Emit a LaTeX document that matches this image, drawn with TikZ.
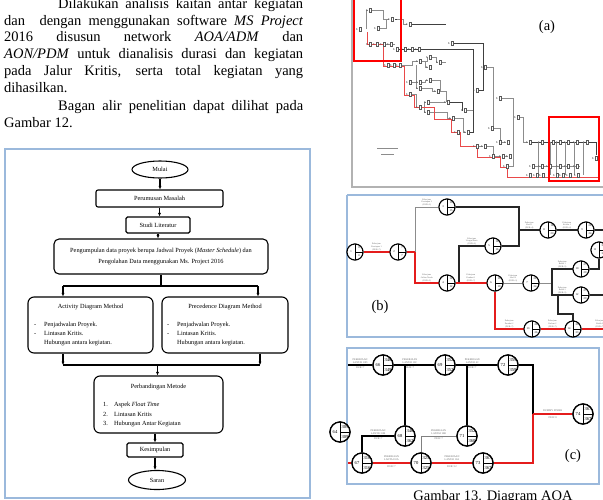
\documentclass[tikz,border=0pt]{standalone}
\usepackage{fontspec}
\setmainfont{Liberation Serif}
\usetikzlibrary{arrows.meta,positioning,calc,shapes.geometric}
\definecolor{frameblue}{RGB}{155,185,220}
\definecolor{pathred}{RGB}{228,28,28}
\tikzset{
  bodyline/.style={anchor=base west, inner sep=0pt, font=\fontsize{14.5}{17}\selectfont},
  flowbox/.style={draw=black, line width=1.1pt, rounded corners=2pt, fill=white,
    align=center, inner sep=1pt, font=\fontsize{6.3}{10.5}\selectfont},
  flowoval/.style={draw=black, line width=1.1pt, ellipse, fill=white, inner sep=0pt,
    font=\fontsize{6.3}{8}\selectfont},
  flowtext/.style={inner sep=0pt, font=\fontsize{6.3}{9}\selectfont},
  flowarrow/.style={-{Latex[length=3.5pt,width=3.2pt]}, line width=1.1pt},
  flowline/.style={line width=1.1pt},
  frame/.style={draw=frameblue, line width=1.3pt},
  mini/.style={draw=black!65, line width=0.4pt, fill=white, minimum width=2.2pt,
    minimum height=4.6pt, inner sep=0pt},
  agray/.style={draw=black!45, line width=0.6pt},
  adark/.style={draw=black!75, line width=0.8pt},
  ared/.style={draw=pathred!80, line width=0.7pt},
  redbox/.style={draw=red, line width=1.8pt},
  eventnode/.style={circle, draw=black, fill=white, inner sep=0pt,
    path picture={\draw[line width=#1] (path picture bounding box.north) -- (path picture bounding box.south)
      (path picture bounding box.center) -- (path picture bounding box.east);}},
  eventnode/.default=0.6pt,
  critb/.style={draw=pathred, line width=1.8pt},
  blackb/.style={draw=black!85, line width=1.1pt},
  grayb/.style={draw=black!45, line width=0.7pt},
  elabb/.style={above, align=center, inner sep=0.6pt, font=\fontsize{2.2}{2.6}\selectfont, text=black!60},
  critc/.style={draw=pathred, line width=2.4pt},
  blackc/.style={draw=black, line width=1.6pt},
  grayc/.style={draw=black!50, line width=0.7pt},
  elabc/.style={above, align=center, inner sep=0.8pt, font=\fontsize{2.6}{3}\selectfont, text=black!60},
  durc/.style={below, inner sep=1.2pt, font=\fontsize{2.6}{3}\selectfont, text=black!60},
}
\newcommand{\eventvals}[5]{%
  \node[valtxt] at ($(#1.center)+(-#2,0)$) {#3};
  \node[valtxt] at ($(#1.center)+(#2,-#2)$) {#4};
  \node[valtxt] at ($(#1.center)+(#2,#2)$) {#5};}

\begin{document}
\begin{tikzpicture}[x=1pt, y=-1pt]
\useasboundingbox (0,0) rectangle (603,499);

% paragraph text
\node[bodyline] (l1) at (58,8.5) {\makebox[245pt][s]{Dilakukan analisis kaitan antar kegiatan}};
\node[bodyline] (l2) at (4,25.2) {\makebox[299pt][s]{dan\ \ dengan menggunakan software \textit{MS Project}}};
\node[bodyline] (l3) at (4,41.9) {\makebox[299pt][s]{2016 disusun network \textit{AOA/ADM} dan}};
\node[bodyline] (l4) at (4,58.6) {\makebox[299pt][s]{\textit{AON/PDM} untuk dianalisis durasi dan kegiatan}};
\node[bodyline] (l5) at (4,75.3) {\makebox[299pt][s]{pada Jalur Kritis, serta total kegiatan yang}};
\node[bodyline] (l6) at (4,92) {dihasilkan.};
\node[bodyline] (l7) at (58,110) {\makebox[245pt][s]{Bagan alir penelitian dapat dilihat pada}};
\node[bodyline] (l8) at (4,127) {Gambar 12.};

% flowchart
\draw[frame] (5,149) rectangle (310,498);
\node[flowoval, minimum width=56pt, minimum height=17pt] (mulai) at (160,169.5) {Mulai};
\node[flowbox, minimum width=127pt, minimum height=17pt] (rumus) at (159.5,198.5) {Perumusan Masalah};
\node[flowbox, minimum width=64pt, minimum height=16pt, rounded corners=1.5pt] (studi) at (158,225) {Studi Literatur};
\node[flowbox, minimum width=214pt, minimum height=35pt, rounded corners=5pt] (kumpul) at (161,256.5)
  {Pengumpulan data proyek berupa Jadwal Proyek (\textit{Master Schedule}) dan\\Pengolahan Data menggunakan Ms. Project 2016};
\node[flowbox, minimum width=125pt, minimum height=56pt, rounded corners=6pt] (adm) at (90.5,325) {};
\node[flowtext] (admtitle) at (90.5,307) {Activity Diagram Method};
\node[flowtext, anchor=west] (admlist) at (34,334)
  {\begin{tabular}{@{}p{10pt}@{}l@{}}-&Penjadwalan Proyek.\\-&Lintasan Kritis.\\&Hubungan antara kegiatan.\end{tabular}};
\node[flowbox, minimum width=126pt, minimum height=56pt, rounded corners=6pt] (pdm) at (225,325) {};
\node[flowtext] (pdmtitle) at (225,307) {Precedence Diagram Method};
\node[flowtext, anchor=west] (pdmlist) at (167,334)
  {\begin{tabular}{@{}p{10pt}@{}l@{}}-&Penjadwalan Proyek.\\-&Lintasan Kritis.\\&Hubungan antara kegiatan.\end{tabular}};
\node[flowbox, minimum width=129pt, minimum height=57pt, rounded corners=6pt] (banding) at (158.5,404.5) {};
\node[flowtext] (bandtitle) at (158.5,387) {Perbandingan Metode};
\node[flowtext, anchor=west, font=\fontsize{6.3}{9.5}\selectfont] (bandlist) at (103,414.5)
  {\begin{tabular}{@{}p{11pt}@{}l@{}}1.&Aspek \textit{Float Time}\\2.&Lintasan Kritis\\3.&Hubungan Antar Kegiatan\end{tabular}};
\node[flowbox, minimum width=56pt, minimum height=14pt, rounded corners=1.5pt] (simpul) at (155,450) {Kesimpulan};
\node[flowoval, minimum width=57pt, minimum height=19pt] (saran) at (157,480) {Saran};

\draw[flowarrow] (mulai.south) -- (mulai.south |- rumus.north);
\draw[flowarrow] (rumus.south) -- (rumus.south |- studi.north);
\draw[flowarrow] (studi.south) -- (studi.south |- kumpul.north);
\coordinate (forkL) at (63,286);
\coordinate (forkR) at (258,286);
\draw[flowline] (kumpul.south) -- (kumpul.south |- forkL);
\draw[flowline] (forkL) -- (forkR);
\draw[flowarrow] (forkL) -- (forkL |- adm.north);
\draw[flowarrow] (forkR) -- (forkR |- pdm.north);
\coordinate (joinL) at (63,365);
\coordinate (joinR) at (260,365);
\coordinate (join) at (157.5,365);
\draw[flowarrow] (joinL |- adm.south) -- (joinL);
\draw[flowarrow] (joinR |- pdm.south) -- (joinR);
\draw[flowline] (joinL) -- (joinR);
\draw[flowarrow] (join) -- (join |- banding.north);
\draw[flowarrow] (banding.south -| simpul) -- (simpul.north);
\draw[flowarrow] (simpul.south) -- (simpul.south |- saran.north);

% (a) AOA network, full view
\draw[draw=black!30, line width=1.2pt] (352,0) -- (352,187) -- (603,187);
\draw[agray] (366,29) -- (366,10) -- (368,10);
\draw[agray] (372,10) -- (383,10) -- (383,19) -- (389,19);
\draw[agray] (380,28) -- (386,28) -- (386,19);
\draw[adark] (395,19) -- (400,19) -- (400,49);
\draw[agray] (397,19) -- (403,19) -- (403,24) -- (407,24);
\draw[adark] (412,24) -- (446,24);
\draw[agray] (372,44) -- (395,44);
\draw[adark] (399,49) -- (473,49) -- (473,132) -- (470,132);
\draw[adark] (454,43) -- (483,43) -- (483,90) -- (479,90);
\draw[agray] (402,65) -- (412,65) -- (412,61) -- (418,61);
\draw[agray] (422,61) -- (427,61) -- (427,57) -- (428,57);
\draw[agray] (432,57) -- (436,57) -- (436,62) -- (438,62);
\draw[agray] (425,61) -- (425,67) -- (428,67);
\draw[agray] (442,62) -- (446,62);
\draw[agray] (412,82) -- (418,82);
\draw[agray] (422,82) -- (425,82) -- (425,80) -- (428,80);
\draw[agray] (416,65) -- (416,88) -- (418,88);
\draw[agray] (422,88) -- (432,88) -- (432,91) -- (436,91);
\draw[agray] (432,80) -- (440,80) -- (440,91);
\draw[agray] (412,94) -- (416,94) -- (416,107) -- (418,107);
\draw[agray] (424,107) -- (424,102) -- (426,102);
\draw[agray] (424,107) -- (424,112) -- (426,112);
\draw[agray] (430,102) -- (446,102);
\draw[agray] (440,91) -- (446,91) -- (446,102);
\draw[agray] (430,112) -- (447,112) -- (447,118) -- (451,118);
\draw[adark] (450,102) -- (462,102) -- (462,110) -- (463,110);
\draw[agray] (467,110) -- (473,110);
\draw[agray] (455,118) -- (463,118) -- (463,132) -- (466,132);
\draw[agray] (479,146) -- (483,146);
\draw[agray] (487,67) -- (493,67) -- (493,128) -- (494,128);
\draw[agray] (487,146) -- (493,146) -- (493,156);
\draw[agray] (494,128) -- (500,128) -- (500,140);
\draw[agray] (502,98) -- (513,98) -- (513,166) -- (509,166);
\draw[agray] (520,117) -- (523,117) -- (523,142) -- (528,142);
\draw[agray] (502,142) -- (506,142);
\draw[agray] (495,156) -- (501,156);
\draw[agray] (505,156) -- (508,156);
\draw[adark] (532,142) -- (596,142) -- (596,155);
\foreach \x in {538,550,556,565,574,583}
  \draw[agray] (\x,142) -- (\x,175);
\draw[agray] (535,166) -- (580,166);
\draw[ared] (367,32) -- (367,44) -- (383,44) -- (383,66) -- (404,66) -- (404,95) -- (414,95)
  -- (414,107) -- (434,107) -- (434,119) -- (451,119) -- (451,132) -- (460,132) -- (460,146)
  -- (477,146) -- (477,157) -- (500,157) -- (500,167) -- (507,167) -- (507,177) -- (599,177) -- (599,160);
\foreach \x/\y [count=\i] in {360/29, 370/10, 378/28, 392/19, 410/24, 370/44, 377/44, 384/44, 391/44,
    397/49, 405/49, 412/49, 419/49, 452/43, 388/65, 394/65, 400/65, 420/61, 430/57, 440/62, 430/67,
    410/82, 420/82, 430/80, 410/94, 420/88, 438/91, 420/107, 428/102, 428/112, 448/102, 453/118,
    465/110, 458/132, 468/132, 477/146, 485/146, 485/67, 477/90, 492/128, 500/98, 493/156, 503/156,
    510/156, 500/142, 508/142, 518/117, 507/166, 530/142, 542/142, 553/142, 560/142, 568/142,
    577/142, 587/142, 533/166, 542/166, 550/166, 560/166, 568/166, 577/166, 530/175, 537/175,
    543/175, 557/175, 563/175, 570/175, 578/175, 596/158}
  {\fill[black!70] (\x-3.2,\y) circle (0.7);
   \node[mini] (a\i) at (\x,\y) {};}
\draw[black!45, line width=0.9pt] (377,148) -- (398,148);
\draw[black!45, line width=0.5pt] (381,154) -- (394,154);
\draw[redbox] (354,-2) rectangle (401,61);
\draw[redbox] (549,117) rectangle (599,181);
\node[font=\fontsize{14.5}{17}\selectfont, inner sep=0pt] (atag) at (547,27) {(a)};

% (b) AON/PDM detail
\draw[frame] (347,195) -- (347,337) -- (610,337);
\draw[frame] (347,195) -- (610,195);
\begin{scope}[valtxt/.style={inner sep=0pt, font=\fontsize{2.8}{3}\selectfont}]
  \foreach \n/\x/\y in {n1/355/252, n2/398/252, n3/447/207, n4/447/283, n5/493/246, n6/495/283,
      n7/531/283, n8/548/230, n9/586/230, n10/599/250, n11/581/269, n12/581/295, n13/532/329, n14/573/329}
    \node[eventnode, minimum size=16pt, line width=1pt] (\n) at (\x,\y) {};
  \coordinate (b1) at (415,252);
  \coordinate (b2) at (519,230);
  \coordinate (b3) at (459,283);
  \coordinate (b4) at (552,283);
  \coordinate (b5) at (558,295);
  \coordinate (b6) at (558,314);
  \coordinate (bout1) at (612,230);
  \coordinate (bout2) at (612,295);
  \coordinate (bout3) at (612,329);
  \draw[critb] (n1) -- node[elabb] {Pekerjaan\\Persiapan 1\\(DUR=7)} (n2);
  \draw[critb] (n2) -- (b1);
  \draw[critb] (b1) |- node[elabb, pos=0.75] {Pekerjaan\\Galian Tanah\\(DUR=5)} (n4);
  \draw[grayb] (b1) |- node[elabb, pos=0.75] {Pekerjaan\\Persiapan 2\\(DUR=3)} (n3);
  \draw[blackb] (n3) -| (b2);
  \draw[blackb] (n5) -| (b2);
  \draw[blackb] (b2) -- node[elabb] {Pekerjaan\\Sloof 1\\(DUR=4)} (n8);
  \draw[blackb] (b3) |- node[elabb, pos=0.75] {Pekerjaan\\Urugan Pasir\\(DUR=2)} (n5);
  \draw[critb] (n4) -- node[elabb] {Pekerjaan\\Pondasi 1\\(DUR=7)} (n6);
  \draw[grayb] (n6) -- node[elabb] {Pekerjaan\\Sloof 2\\(DUR=3)} (n7);
  \draw[grayb] (n7) -- (b4);
  \draw[blackb] (n11) -| node[elabb, pos=0.25] {Pekerjaan\\Balok 1\\(DUR=5)} (b4);
  \draw[blackb] (n12) -| node[elabb, pos=0.25] {Pekerjaan\\Balok 2\\(DUR=5)} (b4);
  \draw[blackb] (b5) -- (b6) -| (n14);
  \draw[blackb] (n8) -- node[elabb] {Pekerjaan\\Kolom 1\\(DUR=4)} (n9);
  \draw[blackb] (n9) -- (bout1);
  \draw[blackb] (n11) -| (n10);
  \draw[blackb] (n12) -- (bout2);
  \draw[critb] (n6) |- node[elabb, pos=0.75] {Pekerjaan\\Pondasi 2\\(DUR=7)} (n13);
  \draw[critb] (n13) -- node[elabb] {Pekerjaan\\Kolom 2\\(DUR=7)} (n14);
  \draw[critb] (n14) -- node[elabb, pos=0.6] {Pekerjaan\\Balok 3\\(DUR=7)} (bout3);
  \foreach \n in {n1,n2,n3,n4,n5,n6,n7,n8,n9,n10,n11,n12,n13,n14}
    \node[eventnode, minimum size=16pt, line width=1pt] at (\n) {};
  \eventvals{n1}{4}{1}{0}{0}
  \eventvals{n2}{4}{2}{7}{7}
  \eventvals{n3}{4}{3}{10}{15}
  \eventvals{n4}{4}{4}{12}{12}
  \eventvals{n5}{4}{5}{14}{16}
  \eventvals{n6}{4}{6}{19}{19}
  \eventvals{n7}{4}{7}{22}{24}
  \eventvals{n8}{4}{8}{18}{20}
  \eventvals{n9}{4}{9}{22}{24}
  \eventvals{n10}{4}{11}{32}{34}
  \eventvals{n11}{4}{10}{27}{29}
  \eventvals{n12}{4}{12}{27}{29}
  \eventvals{n13}{4}{13}{26}{26}
  \eventvals{n14}{4}{14}{33}{33}
\end{scope}
\node[font=\fontsize{14.5}{17}\selectfont, inner sep=0pt] (btag) at (380,307) {(b)};

% (c) AOA detail at the finish
\draw[frame] (347,348) rectangle (599,484);
\begin{scope}[valtxt/.style={inner sep=0pt, font=\fontsize{4.6}{5}\selectfont}]
  \foreach \n/\x/\y in {c0/340/432, c1/383/365, c2/445/365, c3/508/365, c4/583/414, c5/405/436,
      c6/467/436, c7/362/463, c8/421/463, c9/483/463}
    \node[eventnode=0.9pt, minimum size=20pt, line width=1.3pt] (\n) at (\x,\y) {};
  \coordinate (cin1) at (348,365);
  \coordinate (cin2) at (348,463);
  \coordinate (cj) at (533,414);
  \draw[blackc] (cin1) -- node[elabc] {PEKERJAAN\\LANTAI 10D} node[durc] {DUR=7} (c1);
  \draw[blackc] (c1) -- node[elabc, pos=0.4] {PEKERJAAN\\LANTAI 10C} node[durc, pos=0.4] {DUR=7} (c2);
  \draw[blackc] (c2) -- node[elabc, pos=0.4] {PEKERJAAN\\LANTAI 4C} node[durc, pos=0.4] {DUR=7} (c3);
  \draw[blackc] (c5 |- c1) -- (c5);
  \draw[blackc] (c6 |- c2) -- (c6);
  \draw[blackc] (c3) -| (cj);
  \draw[blackc] (c7) |- node[elabc, pos=0.75] {PEKERJAAN\\LANTAI 10B} node[durc, pos=0.75] {DUR=7} (c5);
  \draw[grayc] (c8) |- node[elabc, pos=0.75] {PEKERJAAN\\LANTAI 10B} node[durc, pos=0.75] {DUR=7} (c6);
  \draw[critc] (cin2) -- (c7);
  \draw[critc] (c7) -- node[elabc] {PEKERJAAN\\LANTAI 10A} node[durc] {DUR=7} (c8);
  \draw[critc] (c8) -- node[elabc] {PEKERJAAN\\LANTAI 10A} node[durc] {DUR=12} (c9);
  \draw[critc] (c9) -| (cj);
  \draw[critc] (cj) -- node[elabc] {DUMMY FINISH} node[durc] {DUR=0} (c4);
  \foreach \n in {c0,c1,c2,c3,c4,c5,c6,c7,c8,c9}
    \node[eventnode=0.9pt, minimum size=20pt, line width=1.3pt] at (\n) {};
  \eventvals{c0}{5}{64}{309}{309}
  \eventvals{c1}{5}{66}{346}{349}
  \eventvals{c2}{5}{69}{352}{352}
  \eventvals{c3}{5}{72}{359}{359}
  \eventvals{c4}{5}{74}{367}{367}
  \eventvals{c5}{5}{68}{346}{362}
  \eventvals{c6}{5}{71}{352}{360}
  \eventvals{c7}{5}{67}{316}{316}
  \eventvals{c8}{5}{70}{325}{325}
  \eventvals{c9}{5}{73}{367}{367}
\end{scope}
\node[font=\fontsize{14.5}{17}\selectfont, inner sep=0pt] (ctag) at (573,456) {(c)};
\node[font=\fontsize{14.5}{17}\selectfont, anchor=base, inner sep=0pt] (caption) at (493,500.5) {Gambar 13. Diagram AOA};
\end{tikzpicture}
\end{document}
